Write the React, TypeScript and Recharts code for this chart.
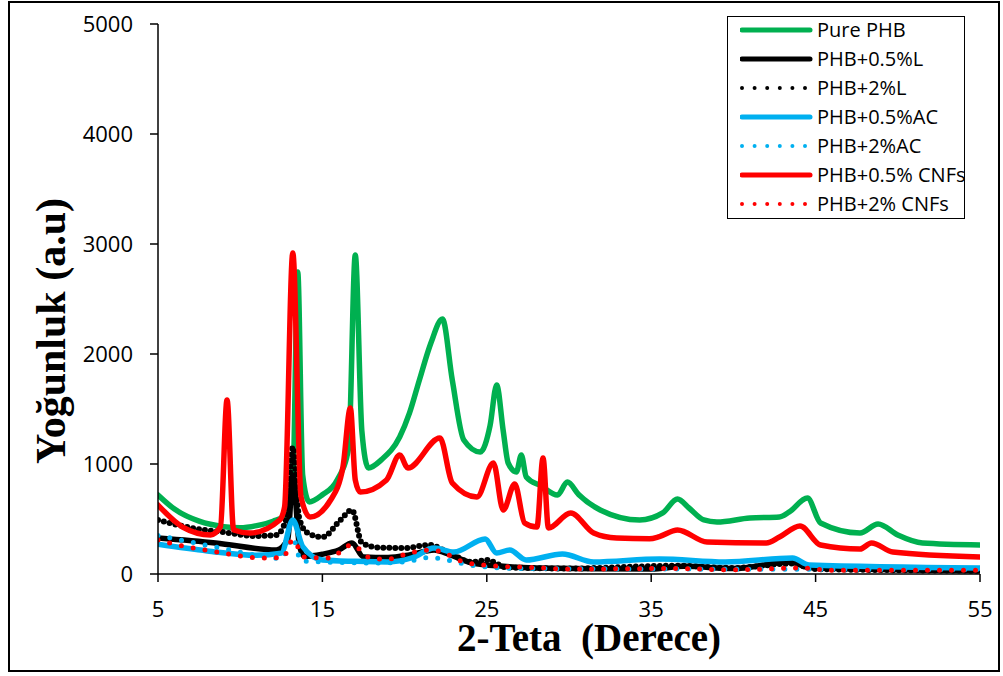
import React from 'react';
import { LineChart, Line, XAxis, YAxis } from 'recharts';

type Pt = [number, number];

const xTicks = [5, 15, 25, 35, 45, 55];
const yTicks = [0, 1000, 2000, 3000, 4000, 5000];

const purePHB: Pt[] = [
  [5, 718], [6, 590], [7.5, 480], [9, 430], [10, 420], [11, 440], [12, 480], [12.7, 530],
  [13.2, 800], [13.5, 2745], [13.8, 900], [14.2, 655], [15, 720], [15.9, 855], [16.6, 1150],
  [17.0, 2900], [17.4, 1300], [17.8, 964], [18.6, 1040], [19.7, 1245], [20.3, 1464],
  [20.9, 1764], [21.6, 2100], [22.3, 2318], [22.9, 1764], [23.6, 1218], [24.6, 1109],
  [25.2, 1350], [25.6, 1718], [26.0, 1300], [26.3, 1009], [26.8, 927], [27.1, 1082],
  [27.4, 882], [28.3, 800], [29.3, 718], [29.9, 836], [30.6, 720], [31.9, 582], [34.3, 491],
  [35.7, 555], [36.6, 682], [37.3, 600], [38.2, 491], [39.0, 473], [41.0, 509], [42.8, 518],
  [43.4, 564], [44.5, 691], [45.3, 464], [47.7, 373], [48.8, 455], [50.0, 355], [51.5, 282],
  [55, 264],
];

const phb05L: Pt[] = [
  [5, 327], [8.5, 282], [12.2, 218], [12.9, 320], [13.2, 900], [13.6, 260], [13.9, 160],
  [15.0, 180], [16.0, 218], [16.8, 282], [17.5, 155], [19, 150], [20.3, 173], [21.8, 218],
  [22.5, 191], [24.1, 100], [26, 70], [28, 55], [35, 45], [37, 70], [40, 50], [43.5, 110],
  [44.5, 60], [55, 30],
];

const phb2L: Pt[] = [
  [5, 491], [7, 420], [9, 380], [11, 345], [12.2, 355], [12.8, 500], [13.2, 1155],
  [13.6, 500], [14.1, 373], [15.0, 336], [16.1, 491], [16.8, 582], [17.4, 282], [18.5, 240],
  [20, 236], [21.5, 264], [22.7, 191], [24.1, 109], [25.0, 127], [26.2, 60], [30, 50],
  [36.5, 75], [40, 55], [43.5, 95], [45, 45], [55, 30],
];

const phb05AC: Pt[] = [
  [5, 270], [8, 210], [11, 170], [12.5, 190], [13.2, 491], [13.8, 250], [15, 127], [17, 115],
  [19, 109], [20.5, 150], [21.8, 236], [23, 200], [24.9, 318], [25.6, 191], [26.4, 218],
  [27.4, 127], [29.6, 182], [31.5, 109], [35.5, 136], [39.5, 109], [43.6, 145], [44.6, 82],
  [55, 55],
];

const phb2AC: Pt[] = [
  [5, 350], [7, 290], [9, 230], [11, 170], [12.5, 140], [13.2, 330], [13.7, 120], [15, 110],
  [18, 100], [20, 110], [21.5, 150], [22.5, 130], [24, 80], [27, 50], [55, 40],
];

const phb05CNF: Pt[] = [
  [5, 627], [6.5, 427], [8.2, 355], [8.8, 430], [9.2, 1582], [9.6, 400], [10.6, 373],
  [12.4, 491], [12.7, 609], [13.2, 2918], [13.7, 700], [14.25, 518], [15.5, 673],
  [16.25, 973], [16.7, 1509], [17.0, 855], [17.3, 745], [18.9, 855], [19.7, 1082],
  [20.2, 964], [22.15, 1236], [22.9, 827], [24.4, 700], [25.4, 1009], [26.0, 582],
  [26.7, 818], [27.3, 464], [28.05, 427], [28.42, 1055], [28.75, 418], [30.1, 555],
  [31.5, 373], [32.9, 327], [34.9, 320], [35.5, 340], [36.6, 400], [38.4, 291], [42.0, 282],
  [42.8, 336], [44.05, 436], [45.3, 264], [47.7, 227], [48.4, 282], [49.7, 200], [55, 155],
];

const phb2CNF: Pt[] = [
  [5, 309], [5.7, 282], [8.6, 200], [11.4, 145], [12.6, 150], [13.2, 309], [13.9, 155],
  [15.4, 145], [16.8, 264], [18, 140], [19, 136], [20.3, 191], [21.7, 218], [22.4, 191],
  [23.6, 109], [25.5, 73], [27.6, 60], [30, 45], [36.5, 50], [40, 38], [44, 55], [46, 35],
  [55, 35],
];

const seriesNames = [
  'Pure PHB', 'PHB+0.5%L', 'PHB+2%L', 'PHB+0.5%AC', 'PHB+2%AC', 'PHB+0.5% CNFs', 'PHB+2% CNFs',
];

const series = [
  { name: seriesNames[0], pts: purePHB, color: '#00B050', dotted: false },
  { name: seriesNames[1], pts: phb05L, color: '#000000', dotted: false },
  { name: seriesNames[2], pts: phb2L, color: '#000000', dotted: true },
  { name: seriesNames[3], pts: phb05AC, color: '#00B0F0', dotted: false },
  { name: seriesNames[4], pts: phb2AC, color: '#00B0F0', dotted: true },
  { name: seriesNames[5], pts: phb05CNF, color: '#FF0000', dotted: false },
  { name: seriesNames[6], pts: phb2CNF, color: '#FF0000', dotted: true },
];

const toData = (pts: Pt[]) => pts.map(([x, y]) => ({ x, y }));

const tickFont = { fontFamily: '"Open Sans", sans-serif', fontSize: 22, fill: '#000' };

export default function App() {
  return (
    <div style={{ position: 'absolute', left: 0, top: 0, width: 1003, height: 676, background: '#fff' }}>
      <div style={{ position: 'absolute', left: 0, top: 0 }}>
        <LineChart width={1003} height={676} margin={{ top: 24, right: 23, bottom: 42, left: 78 }}>
          <XAxis
            dataKey="x"
            type="number"
            domain={[5, 55]}
            ticks={xTicks}
            allowDataOverflow
            height={60}
            tickSize={8}
            tickMargin={19}
            axisLine={{ stroke: '#000', strokeWidth: 1.5 }}
            tickLine={{ stroke: '#000', strokeWidth: 1.5 }}
            tick={tickFont}
            interval={0}
          />
          <YAxis
            type="number"
            domain={[0, 5000]}
            ticks={yTicks}
            allowDataOverflow
            width={80}
            tickSize={8}
            tickMargin={17}
            axisLine={{ stroke: '#000', strokeWidth: 1.5 }}
            tickLine={{ stroke: '#000', strokeWidth: 1.5 }}
            tick={tickFont}
            interval={0}
          />
          {series.map((s) => (
            <Line
              key={s.name}
              data={toData(s.pts)}
              dataKey="y"
              name={s.name}
              type="monotone"
              stroke={s.color}
              strokeWidth={s.dotted ? (s.color === '#000000' ? 6 : 5) : 5.5}
              strokeDasharray={s.dotted ? (s.color === '#000000' ? '0 6' : '0 12') : undefined}
              strokeLinecap="round"
              strokeLinejoin="round"
              dot={false}
              activeDot={false}
              isAnimationActive={false}
            />
          ))}
        </LineChart>
      </div>
      <svg
        width={1003}
        height={676}
        style={{ position: 'absolute', left: 0, top: 0, pointerEvents: 'none' }}
      >
        <rect x={9} y={2} width={990} height={669} fill="none" stroke="#000" strokeWidth={2} />
        <text
          x={589}
          y={651}
          textAnchor="middle"
          style={{ fontFamily: '"Liberation Serif", serif', fontWeight: 'bold', fontSize: 39, whiteSpace: 'pre' }}
          xmlSpace="preserve"
        >
          2-Teta  (Derece)
        </text>
        <text
          x={0}
          y={0}
          textAnchor="middle"
          transform="translate(65 331) rotate(-90)"
          style={{ fontFamily: '"Liberation Serif", serif', fontWeight: 'bold', fontSize: 42 }}
        >
          Yoğunluk (a.u)
        </text>
      </svg>
      <div
        style={{
          position: 'absolute', left: 727, top: 16, width: 238, height: 203,
          border: '1.5px solid #000', boxSizing: 'border-box', background: '#fff',
        }}
      >
        {series.map((s, i) => (
          <div
            key={s.name}
            style={{ position: 'absolute', left: 12, top: 13 + i * 29 - 14, height: 28, display: 'flex', alignItems: 'center' }}
          >
            <svg width={74} height={28}>
              <line
                x1={2}
                y1={14}
                x2={70}
                y2={14}
                stroke={s.color}
                strokeWidth={s.dotted ? 4 : 5}
                strokeLinecap="round"
                strokeDasharray={s.dotted ? '0 12.6' : undefined}
              />
            </svg>
            <span
              style={{
                marginLeft: 3, fontFamily: '"Open Sans", sans-serif', fontSize: 20, color: '#000',
                whiteSpace: 'pre', lineHeight: '28px',
              }}
            >
              {s.name}
            </span>
          </div>
        ))}
      </div>
    </div>
  );
}
